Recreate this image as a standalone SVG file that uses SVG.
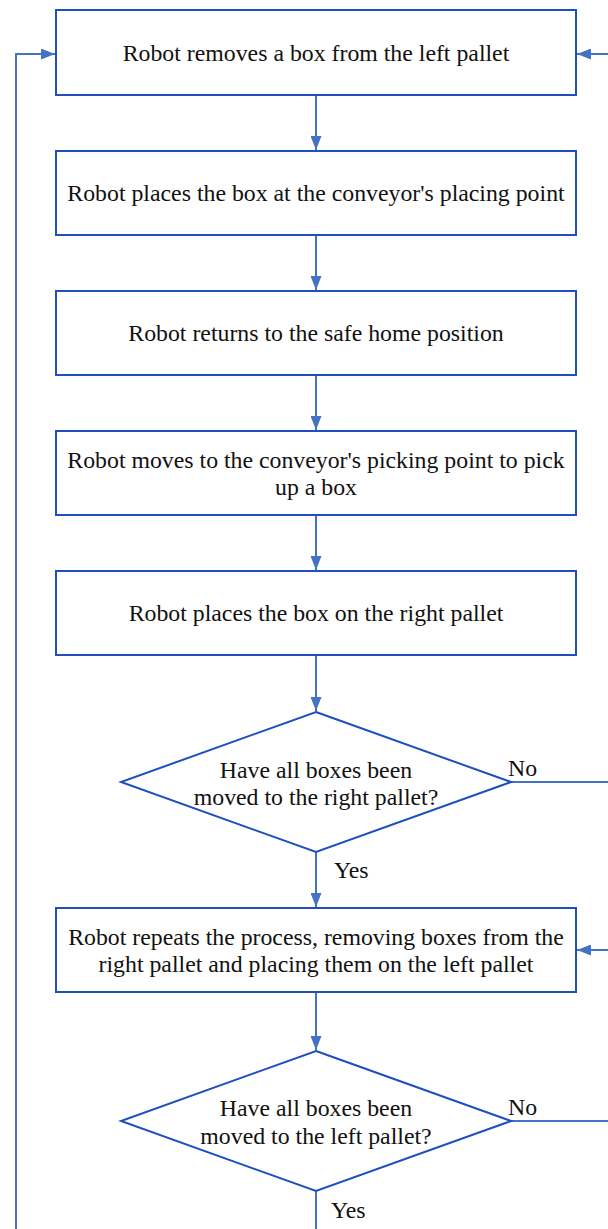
<svg xmlns="http://www.w3.org/2000/svg" width="608" height="1229" viewBox="0 0 608 1229">
<style>
.n{fill:#fff;stroke:#1F4EBF;stroke-width:2}
.c{fill:none;stroke:#4472C4;stroke-width:2}
text{font-family:'Liberation Serif','Times New Roman','DejaVu Serif',serif;font-size:23.8px;fill:#111}
.t{text-anchor:middle}
</style>
<defs>
<marker id="a" viewBox="0 0 14 11" refX="14" refY="5.5" markerWidth="7" markerHeight="5.5" orient="auto" markerUnits="strokeWidth">
<path d="M0,0 L14,5.5 L0,11 z" fill="#4472C4"/>
</marker>
</defs>
<rect width="608" height="1229" fill="#fff"/>
<g id="connectors">
<path class="c" d="M316,95 V150" marker-end="url(#a)"/>
<path class="c" d="M316,235 V290" marker-end="url(#a)"/>
<path class="c" d="M316,375 V430" marker-end="url(#a)"/>
<path class="c" d="M316,515 V570" marker-end="url(#a)"/>
<path class="c" d="M316,655 V711" marker-end="url(#a)"/>
<path class="c" d="M316,852 V907" marker-end="url(#a)"/>
<path class="c" d="M316,992 V1050" marker-end="url(#a)"/>
<path class="c" d="M316,1191 V1229"/>
<path class="c" d="M16,1229 V54 H55" marker-end="url(#a)"/>
<path class="c" d="M608,54 H577" marker-end="url(#a)"/>
<path class="c" d="M511,782 H608"/>
<path class="c" d="M608,950 H577" marker-end="url(#a)"/>
<path class="c" d="M511,1121 H608"/>
<text x="508" y="776">No</text>
<text x="334" y="878">Yes</text>
<text x="508" y="1115">No</text>
<text x="331" y="1218">Yes</text>
</g>
<g id="n1"><rect class="n" x="56" y="10" width="520" height="85"/><text class="t" x="316" y="61">Robot removes a box from the left pallet</text></g>
<g id="n2"><rect class="n" x="56" y="151" width="520" height="84"/><text class="t" x="316" y="201">Robot places the box at the conveyor's placing point</text></g>
<g id="n3"><rect class="n" x="56" y="291" width="520" height="84"/><text class="t" x="316" y="341">Robot returns to the safe home position</text></g>
<g id="n4"><rect class="n" x="56" y="431" width="520" height="84"/><text class="t" x="316" y="468">Robot moves to the conveyor's picking point to pick</text><text class="t" x="316" y="495">up a box</text></g>
<g id="n5"><rect class="n" x="56" y="571" width="520" height="84"/><text class="t" x="316" y="621">Robot places the box on the right pallet</text></g>
<g id="d1"><polygon class="n" points="316,712 511,782 316,852 121,782"/><text class="t" x="316" y="778">Have all boxes been</text><text class="t" x="316" y="805">moved to the right pallet?</text></g>
<g id="n6"><rect class="n" x="56" y="908" width="520" height="84"/><text class="t" x="316" y="945">Robot repeats the process, removing boxes from the</text><text class="t" x="316" y="972">right pallet and placing them on the left pallet</text></g>
<g id="d2"><polygon class="n" points="316,1051 511,1121 316,1191 121,1121"/><text class="t" x="316" y="1116">Have all boxes been</text><text class="t" x="316" y="1144">moved to the left pallet?</text></g>
</svg>
